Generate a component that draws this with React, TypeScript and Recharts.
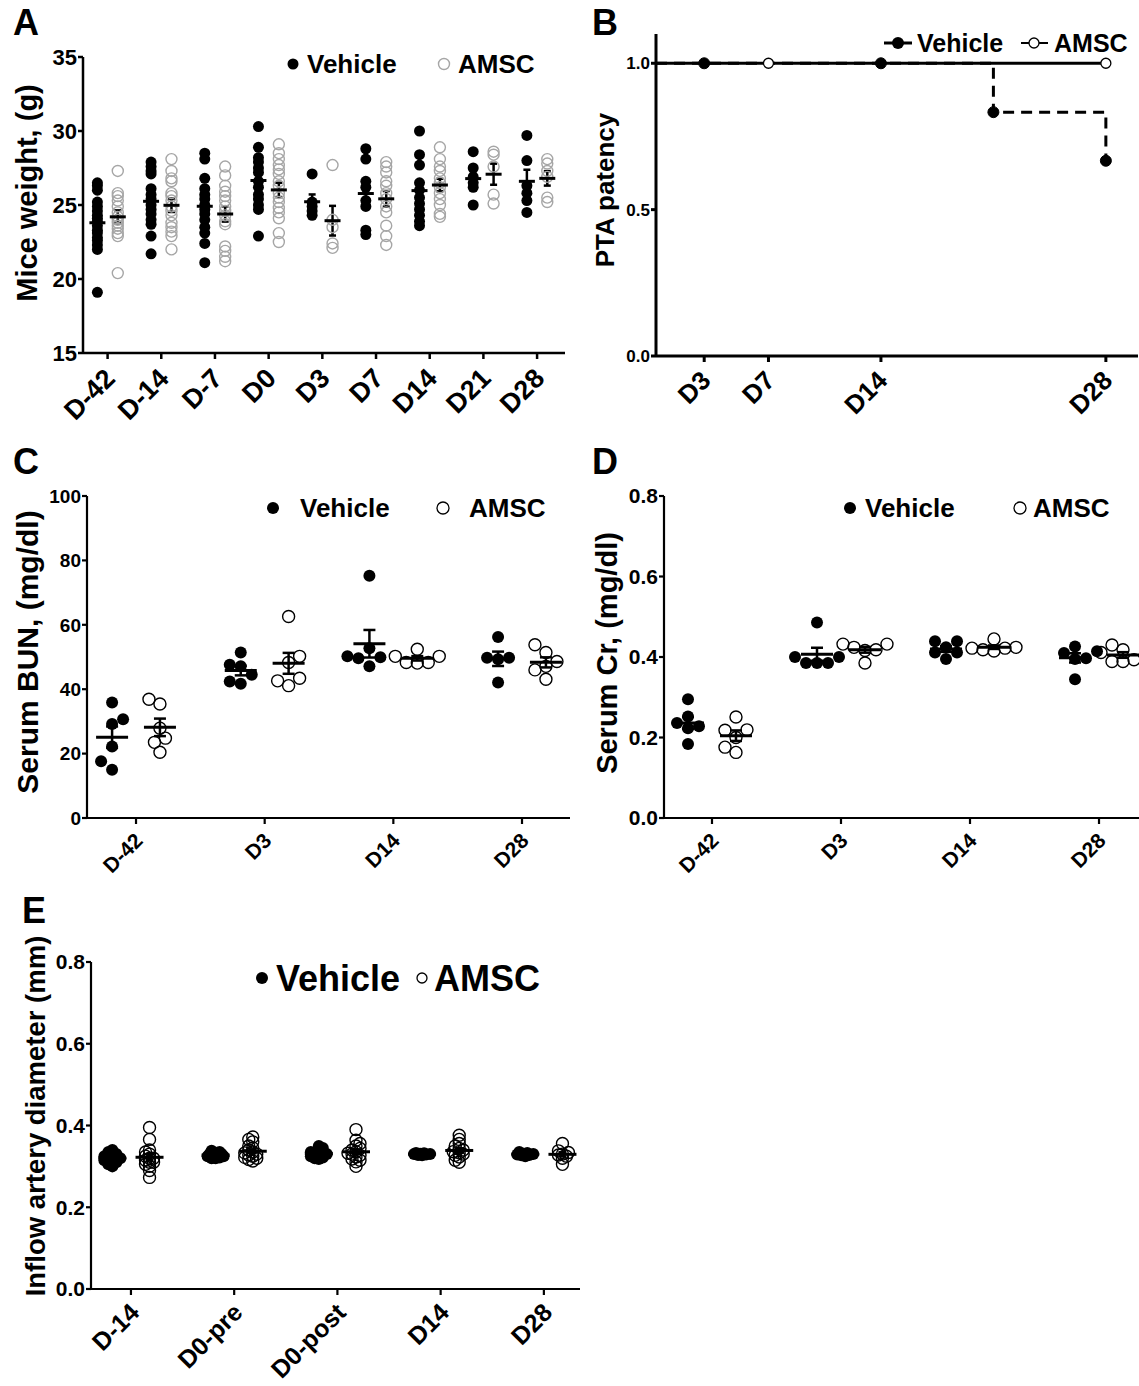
import React from "react";
import { ScatterChart, Scatter, XAxis, YAxis, ErrorBar, ComposedChart, Line } from "recharts";

const FONT = "'Liberation Sans', Arial, Helvetica, sans-serif";

// ---- A: body weight ----
const weightDays = ["D-42", "D-14", "D-7", "D0", "D3", "D7", "D14", "D21", "D28"];
const weightVehicle = [
  [26.5, 26.3, 26.0, 25.2, 24.9, 24.6, 24.3, 24.1, 23.9, 23.6, 23.3, 23.1, 22.8, 22.6, 22.3, 22.0, 19.1],
  [27.9, 27.6, 27.3, 27.1, 26.1, 25.7, 25.4, 25.0, 24.7, 24.4, 24.0, 23.7, 22.9, 21.7],
  [28.5, 28.1, 26.8, 26.1, 25.7, 25.4, 25.0, 24.7, 24.4, 24.0, 23.5, 23.1, 22.4, 21.1],
  [30.3, 28.9, 28.2, 27.9, 27.5, 27.2, 26.6, 26.2, 25.7, 25.4, 25.0, 24.7, 22.9],
  [27.1, 25.2, 24.9, 24.6, 24.3],
  [28.8, 28.1, 26.6, 26.2, 25.3, 24.9, 23.3, 23.0],
  [30.0, 28.4, 27.7, 26.5, 26.0, 25.5, 25.1, 24.7, 24.3, 23.9, 23.6],
  [28.6, 27.5, 26.9, 26.5, 26.2, 25.0],
  [29.7, 28.0, 26.3, 25.8, 25.3, 24.5],
];
const weightAmsc = [
  [27.3, 25.8, 25.6, 25.3, 24.9, 24.5, 24.2, 24.0, 23.8, 23.6, 23.4, 23.1, 22.9, 20.4],
  [28.1, 27.3, 26.8, 26.6, 25.8, 25.6, 25.3, 24.9, 24.6, 24.3, 23.8, 23.5, 23.2, 22.9, 22.0],
  [27.6, 27.0, 26.3, 25.9, 25.6, 25.3, 24.9, 24.6, 24.3, 23.9, 23.7, 22.2, 21.9, 21.5, 21.2],
  [29.1, 28.5, 28.1, 27.7, 27.4, 27.1, 26.6, 26.3, 25.8, 25.5, 25.2, 24.8, 24.5, 24.1, 23.1, 22.5],
  [27.7, 24.0, 23.5, 22.4, 22.1],
  [27.9, 27.6, 27.2, 26.6, 26.3, 25.8, 25.4, 24.9, 24.5, 23.6, 22.9, 22.3],
  [28.9, 28.1, 27.6, 27.3, 26.8, 26.5, 26.2, 25.8, 25.4, 25.0, 24.4, 24.2],
  [28.6, 28.4, 27.6, 25.7, 25.1],
  [28.1, 27.8, 27.3, 26.9, 25.5, 25.2],
];
const weightTicks = [15, 20, 25, 30, 35];

// ---- B: PTA patency ----
const patencyTickDays = [3, 7, 14, 28];
const patencyTickLabels = ["D3", "D7", "D14", "D28"];
const vehicleStepDays = [0, 21, 28];
const vehicleStepValues = [1, 0.833, 0.667];
const amscStepDays = [0, 28];
const amscStepValues = [1, 1];
const vehicleMarkDays = [3, 14, 21, 28];
const vehicleMarkValues = [1, 1, 0.833, 0.667];
const amscMarkDays = [7, 28];
const amscMarkValues = [1, 1];
const patencyTicks = [0, 0.5, 1.0];

// ---- C: BUN ----
const serumDays = ["D-42", "D3", "D14", "D28"];
const bunVehicle = [
  [35.9, 30.7, 29.2, 22.2, 17.6, 15.0],
  [51.4, 47.6, 47.1, 44.5, 42.4, 41.7],
  [75.2, 52.7, 50.2, 49.9, 49.6, 47.1],
  [56.2, 49.8, 49.8, 49.3, 42.1],
];
const bunAmsc = [
  [36.9, 35.4, 27.9, 24.8, 23.5, 20.4],
  [62.6, 50.2, 48.3, 43.4, 42.6, 41.1],
  [52.4, 50.2, 50.2, 48.3, 48.3, 48.1],
  [53.8, 51.4, 48.6, 47.1, 46.0, 43.1],
];
const bunTicks = [0, 20, 40, 60, 80, 100];

// ---- D: creatinine ----
const crVehicle = [
  [0.295, 0.252, 0.236, 0.228, 0.223, 0.184],
  [0.486, 0.4, 0.4, 0.385, 0.385, 0.385],
  [0.439, 0.439, 0.424, 0.411, 0.411, 0.395],
  [0.426, 0.414, 0.41, 0.397, 0.395, 0.345],
];
const crAmsc = [
  [0.251, 0.219, 0.218, 0.2, 0.176, 0.163],
  [0.432, 0.432, 0.424, 0.418, 0.416, 0.385],
  [0.445, 0.424, 0.422, 0.422, 0.418, 0.415],
  [0.43, 0.418, 0.411, 0.393, 0.389, 0.389],
];
const crTicks = [0, 0.2, 0.4, 0.6, 0.8];

// ---- E: inflow artery diameter ----
const diamDays = ["D-14", "D0-pre", "D0-post", "D14", "D28"];
const diamVehicle = [
  [0.34, 0.335, 0.33, 0.33, 0.325, 0.325, 0.32, 0.32, 0.32, 0.315, 0.315, 0.31, 0.31, 0.305, 0.3],
  [0.338, 0.335, 0.333, 0.33, 0.33, 0.328, 0.327, 0.325, 0.325, 0.322, 0.32, 0.32],
  [0.35, 0.345, 0.34, 0.335, 0.333, 0.33, 0.33, 0.328, 0.325, 0.322, 0.32, 0.318],
  [0.333, 0.332, 0.331, 0.33, 0.33, 0.329, 0.328, 0.327],
  [0.335, 0.333, 0.331, 0.33, 0.329, 0.328, 0.327, 0.325],
];
const diamAmsc = [
  [0.395, 0.366, 0.34, 0.335, 0.33, 0.325, 0.32, 0.32, 0.315, 0.31, 0.31, 0.305, 0.3, 0.29, 0.273],
  [0.372, 0.366, 0.36, 0.35, 0.345, 0.34, 0.335, 0.333, 0.33, 0.328, 0.325, 0.322, 0.32, 0.317, 0.313],
  [0.39, 0.364, 0.356, 0.35, 0.344, 0.34, 0.336, 0.332, 0.33, 0.327, 0.323, 0.318, 0.315, 0.311, 0.3],
  [0.376, 0.366, 0.356, 0.35, 0.344, 0.34, 0.336, 0.333, 0.33, 0.327, 0.323, 0.315, 0.31],
  [0.356, 0.338, 0.334, 0.33, 0.328, 0.325, 0.32, 0.305],
];
const diamTicks = [0, 0.2, 0.4, 0.6, 0.8];

// spread points that would sit on top of each other (like a scatter dot plot)
type Swarm = { yPx: number; xPx: number; minDist: number; maxOff: number };
function swarm(values: number[], o: Swarm): number[] {
  const order = values.map((_, i) => i).sort((a, b) => values[a] - values[b]);
  const placed: { x: number; y: number }[] = [];
  const offs = values.map(() => 0);
  const step = o.minDist / 2;
  order.forEach((i, n) => {
    const y = values[i] * o.yPx;
    let best = 0;
    let bestD = -1;
    const sgn = n % 2 === 0 ? 1 : -1;
    outer: for (let k = 0; k * step <= o.maxOff + 0.01; k++) {
      const cands = k === 0 ? [0] : [sgn * k * step, -sgn * k * step];
      for (const s of cands) {
        const d = placed.reduce((m, p) => Math.min(m, Math.hypot(p.x - s, p.y - y)), Infinity);
        if (d >= o.minDist) {
          best = s;
          break outer;
        }
        if (d > bestD) {
          bestD = d;
          best = s;
        }
      }
    }
    placed.push({ x: best, y });
    offs[i] = best / o.xPx;
  });
  return offs;
}

const points = (groups: number[][], shift: number, sw: Swarm | null) =>
  groups.flatMap((vals, i) => {
    const offs = sw ? swarm(vals, sw) : vals.map(() => 0);
    return vals.map((v, j) => ({ x: i + shift + offs[j], y: v }));
  });

const meanSem = (groups: number[][], shift: number) =>
  groups.map((vals, i) => {
    const n = vals.length;
    const m = vals.reduce((a, b) => a + b, 0) / n;
    const sd = Math.sqrt(vals.reduce((a, b) => a + (b - m) * (b - m), 0) / (n - 1));
    return { x: i + shift, y: m, e: sd / Math.sqrt(n) };
  });

const filledDot = (r: number) => (p: any) => <circle cx={p.cx} cy={p.cy} r={r} fill="#000" />;
const openDot = (r: number, color: string, sw: number) => (p: any) => (
  <circle cx={p.cx} cy={p.cy} r={r} fill="none" stroke={color} strokeWidth={sw} />
);
const meanBar = (half: number, sw: number) => (p: any) => (
  <line x1={p.cx - half} x2={p.cx + half} y1={p.cy} y2={p.cy} stroke="#000" strokeWidth={sw} />
);

const rotTick = (labelOf: (v: number) => string, fs: number, ox: number, oy: number) => (props: any) => {
  const { x, y, payload } = props;
  const ax = x + ox;
  const ay = y + oy;
  return (
    <text x={ax} y={ay} transform={`rotate(-45 ${ax} ${ay})`} textAnchor="end" fontSize={fs} fontWeight="bold" fontFamily={FONT} fill="#000">
      {labelOf(payload.value)}
    </text>
  );
};

const axisStyle = (w: number) => ({ stroke: "#000", strokeWidth: w });
const tickText = (fs: number) => ({ fill: "#000", fontSize: fs, fontWeight: "bold", fontFamily: FONT });

function dotSeries(
  vehicle: number[][],
  amsc: number[][],
  shift: number,
  sw: Swarm | null,
  r: number,
  amscColor: string,
  half: number,
  cap: number
) {
  return [
    <Scatter key="v" data={points(vehicle, -shift, sw)} shape={filledDot(r)} isAnimationActive={false} />,
    <Scatter key="a" data={points(amsc, shift, sw)} shape={openDot(r, amscColor, 1.4)} isAnimationActive={false} />,
    <Scatter key="vm" data={meanSem(vehicle, -shift)} shape={meanBar(half, 3)} isAnimationActive={false}>
      <ErrorBar dataKey="e" direction="y" width={cap} stroke="#000" strokeWidth={2.5} />
    </Scatter>,
    <Scatter key="am" data={meanSem(amsc, shift)} shape={meanBar(half, 3)} isAnimationActive={false}>
      <ErrorBar dataKey="e" direction="y" width={cap} stroke="#000" strokeWidth={2.5} />
    </Scatter>,
  ];
}

const vehicleCurve = vehicleStepDays.map((d, i) => ({ day: d, p: vehicleStepValues[i] }));
const amscCurve = amscStepDays.map((d, i) => ({ day: d, p: amscStepValues[i] }));
const vehicleMarks = vehicleMarkDays.map((d, i) => ({ day: d, p: vehicleMarkValues[i] }));
const amscMarks = amscMarkDays.map((d, i) => ({ day: d, p: amscMarkValues[i] }));

const box = (left: number, top: number): React.CSSProperties => ({ position: "absolute", left, top });

function Txt({ x, y, fs, children, rot, anchor }: any) {
  return (
    <text
      x={x}
      y={y}
      fontSize={fs}
      fontWeight="bold"
      fontFamily={FONT}
      fill="#000"
      textAnchor={anchor || "start"}
      transform={rot ? `rotate(-90 ${x} ${y})` : undefined}
    >
      {children}
    </text>
  );
}

export default function App() {
  return (
    <div style={{ position: "absolute", left: 0, top: 0, width: 1139, height: 1386, background: "#fff" }}>
      {/* A */}
      <div style={box(0, 0)}>
        <ScatterChart width={570} height={440} margin={{ top: 57, right: 5, left: 0, bottom: 0 }}>
          <XAxis
            type="number"
            dataKey="x"
            domain={[-0.458, 8.52]}
            ticks={weightDays.map((_, i) => i)}
            allowDataOverflow
            height={87}
            axisLine={axisStyle(2.5)}
            tickLine={axisStyle(2.5)}
            tickSize={6}
            tickMargin={0}
            interval={0}
            tick={rotTick((v) => weightDays[v], 27, 9, 21)}
          />
          <YAxis
            type="number"
            dataKey="y"
            domain={[15, 35]}
            ticks={weightTicks}
            allowDataOverflow
            width={83}
            axisLine={axisStyle(2.5)}
            tickLine={axisStyle(2.5)}
            tickSize={5}
            tickMargin={1}
            tick={tickText(22)}
          />
          {dotSeries(weightVehicle, weightAmsc, 0.19, null, 5.5, "#a6a6a6", 8, 3.5)}
        </ScatterChart>
      </div>

      {/* B */}
      <div style={box(570, 0)}>
        <ComposedChart width={569} height={440} margin={{ top: 34, right: 1, left: 0, bottom: 0 }}>
          <XAxis
            type="number"
            dataKey="day"
            domain={[0, 30]}
            ticks={patencyTickDays}
            allowDataOverflow
            height={84}
            axisLine={axisStyle(3)}
            tickLine={axisStyle(3)}
            tickSize={6}
            tickMargin={0}
            interval={0}
            tick={rotTick((v) => patencyTickLabels[patencyTickDays.indexOf(v)], 26, 8, 20)}
          />
          <YAxis
            type="number"
            dataKey="p"
            domain={[0, 1.1]}
            ticks={patencyTicks}
            allowDataOverflow
            width={86}
            axisLine={axisStyle(3)}
            tickLine={axisStyle(3)}
            tickSize={5}
            tickMargin={1}
            tickFormatter={(v: number) => v.toFixed(1)}
            tick={tickText(17)}
          />
          <Line data={vehicleCurve} dataKey="p" type="stepAfter" stroke="#000" strokeWidth={3} strokeDasharray="11 7" dot={false} isAnimationActive={false} />
          <Line data={amscCurve} dataKey="p" type="linear" stroke="#000" strokeWidth={3} dot={false} isAnimationActive={false} />
          <Line data={vehicleMarks} dataKey="p" stroke="none" dot={{ r: 5.5, fill: "#000", stroke: "#000", strokeWidth: 1 }} isAnimationActive={false} />
          <Line data={amscMarks} dataKey="p" stroke="none" dot={{ r: 5, fill: "#fff", stroke: "#000", strokeWidth: 1.3 }} isAnimationActive={false} />
        </ComposedChart>
      </div>

      {/* C */}
      <div style={box(0, 440)}>
        <ScatterChart width={575} height={450} margin={{ top: 56, right: 5, left: 0, bottom: 0 }}>
          <XAxis
            type="number"
            dataKey="x"
            domain={[-0.381, 3.373]}
            ticks={serumDays.map((_, i) => i)}
            allowDataOverflow
            height={72}
            axisLine={axisStyle(2.2)}
            tickLine={axisStyle(2.2)}
            tickSize={6}
            tickMargin={0}
            interval={0}
            tick={rotTick((v) => serumDays[v], 21, 8, 18)}
          />
          <YAxis
            type="number"
            dataKey="y"
            domain={[0, 100]}
            ticks={bunTicks}
            allowDataOverflow
            width={87}
            axisLine={axisStyle(2.2)}
            tickLine={axisStyle(2.2)}
            tickSize={5}
            tickMargin={1}
            tick={tickText(19)}
          />
          {dotSeries(bunVehicle, bunAmsc, 0.186, { yPx: 3.22, xPx: 128.7, minDist: 11, maxOff: 22 }, 6, "#000", 16, 6)}
        </ScatterChart>
      </div>

      {/* D */}
      <div style={box(575, 440)}>
        <ScatterChart width={564} height={450} margin={{ top: 56, right: 0, left: 0, bottom: 0 }}>
          <XAxis
            type="number"
            dataKey="x"
            domain={[-0.372, 3.31]}
            ticks={serumDays.map((_, i) => i)}
            allowDataOverflow
            height={72}
            axisLine={axisStyle(2.2)}
            tickLine={axisStyle(2.2)}
            tickSize={6}
            tickMargin={0}
            interval={0}
            tick={rotTick((v) => serumDays[v], 21, 8, 18)}
          />
          <YAxis
            type="number"
            dataKey="y"
            domain={[0, 0.8]}
            ticks={crTicks}
            allowDataOverflow
            width={89}
            axisLine={axisStyle(2.2)}
            tickLine={axisStyle(2.2)}
            tickSize={5}
            tickMargin={1}
            tickFormatter={(v: number) => v.toFixed(1)}
            tick={tickText(21)}
          />
          {dotSeries(crVehicle, crAmsc, 0.186, { yPx: 402.5, xPx: 129, minDist: 11, maxOff: 22 }, 6, "#000", 16, 6)}
        </ScatterChart>
      </div>

      {/* E */}
      <div style={box(0, 890)}>
        <ScatterChart width={585} height={496} margin={{ top: 72, right: 5, left: 0, bottom: 0 }}>
          <XAxis
            type="number"
            dataKey="x"
            domain={[-0.387, 4.35]}
            ticks={diamDays.map((_, i) => i)}
            allowDataOverflow
            height={97}
            axisLine={axisStyle(2.2)}
            tickLine={axisStyle(2.2)}
            tickSize={6}
            tickMargin={0}
            interval={0}
            tick={rotTick((v) => diamDays[v], 25, 10, 19)}
          />
          <YAxis
            type="number"
            dataKey="y"
            domain={[0, 0.8]}
            ticks={diamTicks}
            allowDataOverflow
            width={91}
            axisLine={axisStyle(2.2)}
            tickLine={axisStyle(2.2)}
            tickSize={5}
            tickMargin={1}
            tickFormatter={(v: number) => v.toFixed(1)}
            tick={tickText(21)}
          />
          {dotSeries(diamVehicle, diamAmsc, 0.18, { yPx: 409, xPx: 103.3, minDist: 4, maxOff: 8 }, 6, "#000", 14, 4)}
        </ScatterChart>
      </div>

      {/* panel letters, legends, axis titles */}
      <svg width={1139} height={1386} style={{ position: "absolute", left: 0, top: 0, pointerEvents: "none" }}>
        <Txt x={13} y={35} fs={36}>A</Txt>
        <Txt x={592} y={35} fs={36}>B</Txt>
        <Txt x={13} y={474} fs={36}>C</Txt>
        <Txt x={592} y={474} fs={36}>D</Txt>
        <Txt x={22} y={923} fs={36}>E</Txt>

        <Txt x={37} y={193} fs={29} rot anchor="middle">Mice weight, (g)</Txt>
        <Txt x={614} y={190} fs={26} rot anchor="middle">PTA patency</Txt>
        <Txt x={38} y={652} fs={30} rot anchor="middle">Serum BUN, (mg/dl)</Txt>
        <Txt x={617} y={653} fs={29} rot anchor="middle">Serum Cr, (mg/dl)</Txt>
        <Txt x={45} y={1116} fs={27.5} rot anchor="middle">Inflow artery diameter (mm)</Txt>

        {/* A legend */}
        <circle cx={293} cy={64} r={5.5} fill="#000" />
        <Txt x={307} y={73} fs={26}>Vehicle</Txt>
        <circle cx={444} cy={64} r={5.5} fill="none" stroke="#a6a6a6" strokeWidth={1.4} />
        <Txt x={458} y={73} fs={26}>AMSC</Txt>

        {/* B legend */}
        <line x1={884} x2={912} y1={43} y2={43} stroke="#000" strokeWidth={3} />
        <circle cx={898} cy={43} r={6} fill="#000" />
        <Txt x={917} y={52} fs={25}>Vehicle</Txt>
        <line x1={1021} x2={1048} y1={43} y2={43} stroke="#000" strokeWidth={2} />
        <circle cx={1034} cy={43} r={5} fill="#fff" stroke="#000" strokeWidth={1.3} />
        <Txt x={1054} y={52} fs={25}>AMSC</Txt>

        {/* C legend */}
        <circle cx={273} cy={508} r={6} fill="#000" />
        <Txt x={300} y={517} fs={26}>Vehicle</Txt>
        <circle cx={443} cy={508} r={6} fill="none" stroke="#000" strokeWidth={1.3} />
        <Txt x={469} y={517} fs={26}>AMSC</Txt>

        {/* D legend */}
        <circle cx={850} cy={508} r={6} fill="#000" />
        <Txt x={865} y={517} fs={26}>Vehicle</Txt>
        <circle cx={1020} cy={508} r={6} fill="none" stroke="#000" strokeWidth={1.3} />
        <Txt x={1033} y={517} fs={26}>AMSC</Txt>

        {/* E legend */}
        <circle cx={262} cy={978} r={6} fill="#000" />
        <Txt x={276} y={991} fs={36}>Vehicle</Txt>
        <circle cx={422} cy={978} r={5} fill="none" stroke="#000" strokeWidth={1.3} />
        <Txt x={434} y={991} fs={36}>AMSC</Txt>
      </svg>
    </div>
  );
}
